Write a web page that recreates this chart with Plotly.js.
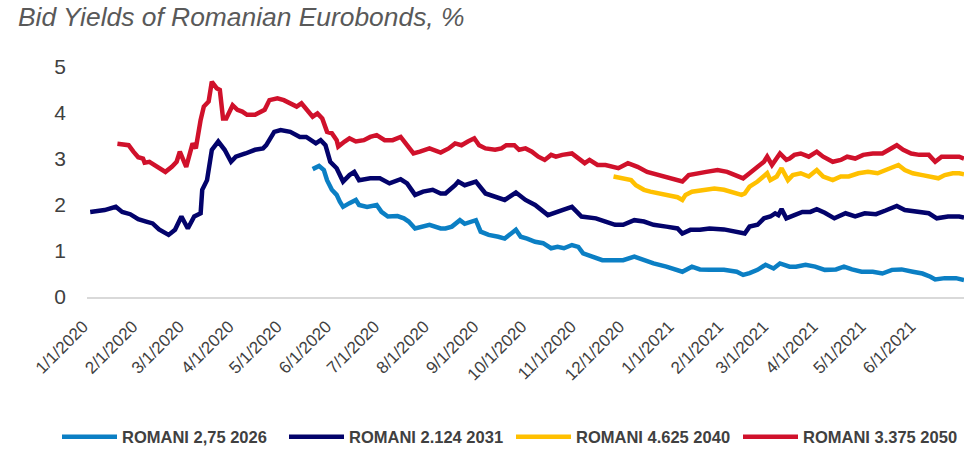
<!DOCTYPE html>
<html><head><meta charset="utf-8">
<script src="https://cdn.plot.ly/plotly-3.0.1.min.js"></script>
<style>html,body{margin:0;padding:0;background:#fff;}#chart{width:972px;height:450px;}</style>
</head><body><div id="chart"></div>
<script>
// ---- Data ----
const seriesNames = ['ROMANI 2,75 2026', 'ROMANI 2.124 2031', 'ROMANI 4.625 2040', 'ROMANI 3.375 2050'];

const dates2026 = ['2020-05-19','2020-05-23','2020-05-26','2020-05-28','2020-05-31','2020-06-03','2020-06-05','2020-06-07','2020-06-11','2020-06-15','2020-06-17','2020-06-22','2020-06-28','2020-07-01','2020-07-05','2020-07-11','2020-07-15','2020-07-18','2020-07-22','2020-07-27','2020-07-31','2020-08-07','2020-08-10','2020-08-14','2020-08-17','2020-08-19','2020-08-22','2020-08-29','2020-09-01','2020-09-06','2020-09-12','2020-09-16','2020-09-23','2020-09-26','2020-09-30','2020-10-05','2020-10-10','2020-10-15','2020-10-19','2020-10-23','2020-10-28','2020-11-01','2020-11-04','2020-11-10','2020-11-16','2020-11-24','2020-11-29','2020-12-06','2020-12-12','2020-12-18','2020-12-26','2021-01-02','2021-01-05','2021-01-11','2021-01-16','2021-01-22','2021-01-31','2021-02-08','2021-02-12','2021-02-16','2021-02-21','2021-02-26','2021-03-03','2021-03-07','2021-03-13','2021-03-17','2021-03-23','2021-03-29','2021-04-04','2021-04-11','2021-04-16','2021-04-21','2021-04-27','2021-05-04','2021-05-10','2021-05-16','2021-05-22','2021-05-29','2021-06-04','2021-06-09','2021-06-12','2021-06-18','2021-06-25','2021-06-30'];
const yields2026 = [2.78,2.85,2.76,2.54,2.33,2.22,2.07,1.96,2.04,2.11,2.00,1.96,2.00,1.85,1.75,1.76,1.71,1.64,1.49,1.53,1.57,1.49,1.49,1.53,1.60,1.67,1.59,1.67,1.42,1.35,1.31,1.27,1.46,1.31,1.27,1.20,1.17,1.06,1.09,1.06,1.13,1.09,0.95,0.88,0.80,0.80,0.80,0.88,0.80,0.73,0.66,0.59,0.55,0.66,0.60,0.59,0.59,0.55,0.48,0.52,0.59,0.70,0.62,0.73,0.66,0.66,0.70,0.66,0.59,0.60,0.66,0.60,0.55,0.55,0.51,0.59,0.60,0.55,0.51,0.44,0.38,0.41,0.41,0.37];

const dates2031 = ['2020-01-01','2020-01-10','2020-01-17','2020-01-21','2020-01-26','2020-01-31','2020-02-05','2020-02-09','2020-02-13','2020-02-19','2020-02-23','2020-02-27','2020-03-02','2020-03-06','2020-03-10','2020-03-11','2020-03-14','2020-03-17','2020-03-21','2020-03-25','2020-03-29','2020-04-01','2020-04-07','2020-04-13','2020-04-18','2020-04-20','2020-04-25','2020-04-29','2020-05-05','2020-05-11','2020-05-15','2020-05-21','2020-05-24','2020-05-27','2020-05-30','2020-06-03','2020-06-07','2020-06-11','2020-06-14','2020-06-17','2020-06-24','2020-06-30','2020-07-06','2020-07-13','2020-07-17','2020-07-22','2020-07-27','2020-08-02','2020-08-07','2020-08-10','2020-08-16','2020-08-18','2020-08-22','2020-08-29','2020-09-04','2020-09-10','2020-09-16','2020-09-23','2020-09-29','2020-10-05','2020-10-13','2020-10-22','2020-10-28','2020-11-03','2020-11-12','2020-11-18','2020-11-24','2020-11-29','2020-12-06','2020-12-12','2020-12-18','2020-12-26','2021-01-02','2021-01-05','2021-01-10','2021-01-16','2021-01-22','2021-01-31','2021-02-08','2021-02-13','2021-02-16','2021-02-21','2021-02-25','2021-03-01','2021-03-04','2021-03-06','2021-03-08','2021-03-11','2021-03-16','2021-03-21','2021-03-26','2021-03-30','2021-04-04','2021-04-10','2021-04-17','2021-04-23','2021-04-29','2021-05-06','2021-05-12','2021-05-19','2021-05-24','2021-06-02','2021-06-08','2021-06-13','2021-06-20','2021-06-27','2021-06-30'];
const yields2031 = [1.85,1.89,1.96,1.85,1.80,1.69,1.64,1.60,1.47,1.35,1.46,1.75,1.49,1.75,1.82,2.33,2.54,3.20,3.38,3.20,2.94,3.05,3.12,3.20,3.23,3.30,3.59,3.63,3.59,3.48,3.48,3.34,3.41,3.30,2.94,2.80,2.51,2.65,2.72,2.54,2.58,2.58,2.47,2.56,2.47,2.22,2.29,2.33,2.25,2.25,2.43,2.51,2.43,2.51,2.25,2.18,2.11,2.27,2.11,2.00,1.78,1.89,1.96,1.75,1.71,1.64,1.57,1.57,1.67,1.64,1.57,1.53,1.49,1.38,1.46,1.46,1.49,1.47,1.42,1.38,1.53,1.57,1.71,1.75,1.82,1.78,1.91,1.71,1.78,1.85,1.85,1.91,1.83,1.71,1.82,1.75,1.82,1.80,1.88,1.98,1.89,1.85,1.82,1.71,1.75,1.75,1.73];

const dates2040 = ['2020-11-23','2020-11-29','2020-12-04','2020-12-07','2020-12-12','2020-12-16','2020-12-22','2020-12-29','2021-01-02','2021-01-05','2021-01-07','2021-01-11','2021-01-14','2021-01-19','2021-01-25','2021-01-31','2021-02-06','2021-02-11','2021-02-13','2021-02-16','2021-02-21','2021-02-25','2021-02-27','2021-03-01','2021-03-05','2021-03-08','2021-03-10','2021-03-12','2021-03-15','2021-03-20','2021-03-25','2021-03-30','2021-04-03','2021-04-09','2021-04-14','2021-04-19','2021-04-25','2021-05-01','2021-05-07','2021-05-12','2021-05-16','2021-05-20','2021-05-24','2021-05-29','2021-06-04','2021-06-10','2021-06-14','2021-06-18','2021-06-23','2021-06-27','2021-06-30'];
const yields2040 = [2.62,2.58,2.54,2.43,2.33,2.29,2.25,2.22,2.17,2.11,2.22,2.29,2.31,2.33,2.36,2.33,2.27,2.22,2.25,2.40,2.51,2.62,2.69,2.54,2.62,2.80,2.65,2.54,2.65,2.69,2.62,2.76,2.62,2.54,2.62,2.62,2.69,2.72,2.69,2.76,2.80,2.87,2.76,2.69,2.65,2.62,2.58,2.65,2.69,2.69,2.67];

const dates2050 = ['2020-01-18','2020-01-25','2020-01-28','2020-01-31','2020-02-03','2020-02-04','2020-02-07','2020-02-12','2020-02-17','2020-02-21','2020-02-24','2020-02-26','2020-02-28','2020-03-01','2020-03-05','2020-03-07','2020-03-10','2020-03-12','2020-03-15','2020-03-17','2020-03-20','2020-03-22','2020-03-24','2020-03-26','2020-03-30','2020-04-02','2020-04-05','2020-04-08','2020-04-13','2020-04-19','2020-04-22','2020-04-27','2020-05-01','2020-05-05','2020-05-09','2020-05-12','2020-05-15','2020-05-19','2020-05-22','2020-05-25','2020-05-28','2020-05-31','2020-06-03','2020-06-04','2020-06-08','2020-06-11','2020-06-15','2020-06-20','2020-06-24','2020-06-28','2020-07-03','2020-07-08','2020-07-13','2020-07-17','2020-07-21','2020-07-25','2020-07-28','2020-07-31','2020-08-07','2020-08-12','2020-08-16','2020-08-20','2020-08-24','2020-08-28','2020-08-31','2020-09-04','2020-09-10','2020-09-14','2020-09-17','2020-09-22','2020-09-25','2020-09-29','2020-10-03','2020-10-07','2020-10-11','2020-10-15','2020-10-18','2020-10-22','2020-10-28','2020-11-02','2020-11-05','2020-11-08','2020-11-13','2020-11-18','2020-11-24','2020-11-26','2020-12-02','2020-12-08','2020-12-14','2020-12-22','2020-12-30','2021-01-05','2021-01-09','2021-01-14','2021-01-20','2021-01-27','2021-02-02','2021-02-07','2021-02-12','2021-02-16','2021-02-21','2021-02-25','2021-02-27','2021-03-02','2021-03-07','2021-03-11','2021-03-13','2021-03-16','2021-03-20','2021-03-25','2021-03-30','2021-04-03','2021-04-09','2021-04-14','2021-04-18','2021-04-23','2021-04-28','2021-05-04','2021-05-10','2021-05-14','2021-05-19','2021-05-23','2021-05-28','2021-06-02','2021-06-08','2021-06-12','2021-06-16','2021-06-20','2021-06-27','2021-06-30'];
const yields2050 = [3.33,3.30,3.16,3.04,3.01,2.92,2.94,2.83,2.72,2.83,2.94,3.16,3.01,2.83,3.34,3.23,3.85,4.14,4.25,4.68,4.54,4.50,3.88,3.88,4.17,4.07,4.03,3.96,3.96,4.07,4.28,4.32,4.28,4.21,4.14,4.21,4.10,3.92,3.99,3.88,3.59,3.56,3.41,3.27,3.38,3.45,3.38,3.41,3.48,3.52,3.41,3.41,3.48,3.30,3.12,3.16,3.20,3.23,3.14,3.23,3.34,3.30,3.38,3.45,3.30,3.23,3.20,3.23,3.30,3.30,3.20,3.23,3.16,3.05,2.98,3.09,3.05,3.09,3.12,2.98,2.91,2.98,2.87,2.87,2.83,2.80,2.91,2.83,2.72,2.65,2.58,2.51,2.65,2.69,2.72,2.76,2.72,2.65,2.58,2.69,2.83,2.94,3.05,2.87,3.12,2.98,3.01,3.09,3.12,3.05,3.16,3.05,2.94,2.98,3.05,3.01,3.09,3.12,3.12,3.20,3.30,3.20,3.12,3.09,3.09,2.94,3.05,3.05,3.05,3.01];

const tickDates = ['2020-01-01','2020-02-01','2020-03-01','2020-04-01','2020-05-01','2020-06-01','2020-07-01','2020-08-01','2020-09-01','2020-10-01','2020-11-01','2020-12-01','2021-01-01','2021-02-01','2021-03-01','2021-04-01','2021-05-01','2021-06-01'];
const tickLabels = ['1/1/2020','2/1/2020','3/1/2020','4/1/2020','5/1/2020','6/1/2020','7/1/2020','8/1/2020','9/1/2020','10/1/2020','11/1/2020','12/1/2020','1/1/2021','2/1/2021','3/1/2021','4/1/2021','5/1/2021','6/1/2021'];
const yTicks = [0, 1, 2, 3, 4, 5];

// ---- Styling ----
const colors = ['#0B7FC4', '#03036B', '#FFC000', '#D0112B'];
const FONT = 'Liberation Sans, Arial, Helvetica, sans-serif';

const xs = [dates2026, dates2031, dates2040, dates2050];
const ys = [yields2026, yields2031, yields2040, yields2050];

const traces = seriesNames.map((name, i) => ({
  type: 'scatter', mode: 'lines', name: name,
  x: xs[i], y: ys[i],
  line: {color: colors[i], width: 4.5, shape: 'linear'},
  hoverinfo: 'skip'
}));

const layout = {
  width: 972, height: 450,
  margin: {l: 87, r: 8, t: 67, b: 153, pad: 0, autoexpand: false},
  paper_bgcolor: '#ffffff', plot_bgcolor: '#ffffff',
  font: {family: FONT, color: '#404040'},
  title: {
    text: 'Bid Yields of Romanian Eurobonds, %',
    font: {family: FONT, size: 26.4, color: '#595959', style: 'italic'},
    xref: 'container', x: 18/972, xanchor: 'left',
    yref: 'container', y: 1 - 8/450, yanchor: 'top'
  },
  xaxis: {
    type: 'date',
    range: ['2019-12-30', '2021-06-30'],
    tickmode: 'array', tickvals: tickDates, ticktext: tickLabels,
    tickangle: -45,
    tickfont: {family: FONT, size: 17, color: '#404040'},
    showgrid: false, zeroline: false,
    showline: true, linecolor: '#d9d9d9', linewidth: 2,
    ticks: '', ticklabelstandoff: 11, ticklabelshift: -7, automargin: false
  },
  yaxis: {
    range: [0, 5], tickmode: 'array', tickvals: yTicks,
    tickfont: {family: FONT, size: 21, color: '#404040'},
    showgrid: false, zeroline: false, showline: false,
    ticks: '', ticklabelstandoff: 20, automargin: false
  },
  showlegend: true,
  legend: {
    orientation: 'h',
    x: -30/877, xanchor: 'left',
    y: -140/230, yanchor: 'middle',
    itemwidth: 55,
    entrywidth: 157, entrywidthmode: 'pixels',
    font: {family: FONT, size: 16.5, color: '#404040', weight: 'bold'},
    bgcolor: 'rgba(0,0,0,0)'
  }
};

Plotly.newPlot('chart', traces, layout, {displayModeBar: false, staticPlot: true});
</script></body></html>
